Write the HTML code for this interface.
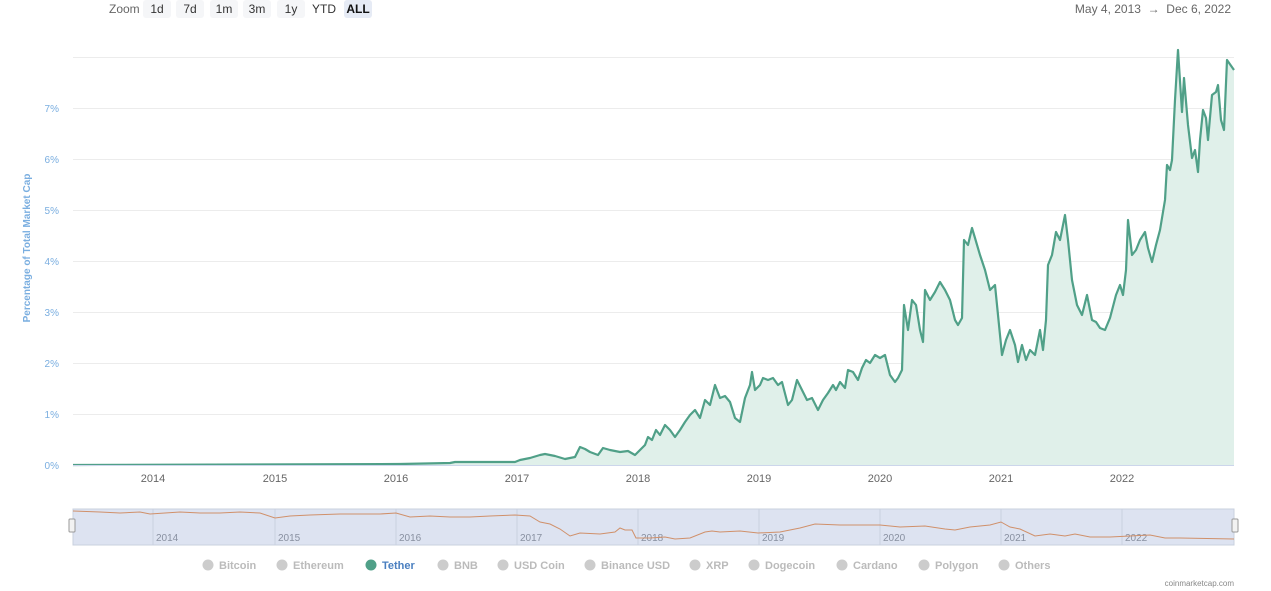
<!DOCTYPE html>
<html><head><style>
body{margin:0;width:1271px;height:591px;background:#fff;font-family:"Liberation Sans",sans-serif;overflow:hidden;position:relative}
.btn{position:absolute;top:0;height:18px;line-height:18px;font-size:12px;color:#333;background:#f5f6f8;border-radius:3px;text-align:center}
</style></head><body>
<div style="position:absolute;left:109px;top:2px;font-size:12px;color:#666">Zoom</div>
<div class="btn" style="left:143px;width:28px">1d</div>
<div class="btn" style="left:176px;width:28px">7d</div>
<div class="btn" style="left:210px;width:28px">1m</div>
<div class="btn" style="left:243px;width:28px">3m</div>
<div class="btn" style="left:277px;width:28px">1y</div>
<div class="btn" style="left:310px;width:28px;background:#fff">YTD</div>
<div class="btn" style="left:344px;width:28px;background:#e6ebf5;font-weight:bold;color:#111">ALL</div>
<div style="position:absolute;right:40px;top:2px;font-size:12px;color:#666">May 4, 2013 &nbsp;→&nbsp; Dec 6, 2022</div>
<svg width="1271" height="591" style="position:absolute;left:0;top:0">
<g stroke="#ececec" stroke-width="1">
<line x1="73" x2="1234" y1="57.5" y2="57.5"/><line x1="73" x2="1234" y1="108.5" y2="108.5"/><line x1="73" x2="1234" y1="159.5" y2="159.5"/><line x1="73" x2="1234" y1="210.5" y2="210.5"/><line x1="73" x2="1234" y1="261.5" y2="261.5"/><line x1="73" x2="1234" y1="312.5" y2="312.5"/><line x1="73" x2="1234" y1="363.5" y2="363.5"/><line x1="73" x2="1234" y1="414.5" y2="414.5"/>
</g>
<g fill="#7aaee0" font-size="10" text-anchor="end">
<text x="59" y="112">7%</text><text x="59" y="163">6%</text><text x="59" y="214">5%</text><text x="59" y="265">4%</text><text x="59" y="316">3%</text><text x="59" y="367">2%</text><text x="59" y="418">1%</text><text x="59" y="469">0%</text>
</g>
<text transform="translate(30,248) rotate(-90)" fill="#7aaee0" font-size="10" font-weight="bold" text-anchor="middle">Percentage of Total Market Cap</text>
<polygon id="area" fill="#e0f0ea"/>
<polyline id="line" fill="none" stroke="#50a088" stroke-width="2.2" stroke-linejoin="round"/>
<line x1="73" x2="1234" y1="465.5" y2="465.5" stroke="#ccd6eb"/>
<g fill="#666" font-size="11" text-anchor="middle">
<text x="153" y="482">2014</text><text x="275" y="482">2015</text><text x="396" y="482">2016</text><text x="517" y="482">2017</text><text x="638" y="482">2018</text><text x="759" y="482">2019</text><text x="880" y="482">2020</text><text x="1001" y="482">2021</text><text x="1122" y="482">2022</text>
</g>
<rect x="73" y="509" width="1161" height="36" fill="#dde3f1" stroke="#c9d0de"/>
<g stroke="#c9d0e0"><line x1="153" x2="153" y1="509" y2="545"/><line x1="275" x2="275" y1="509" y2="545"/><line x1="396" x2="396" y1="509" y2="545"/><line x1="517" x2="517" y1="509" y2="545"/><line x1="638" x2="638" y1="509" y2="545"/><line x1="759" x2="759" y1="509" y2="545"/><line x1="880" x2="880" y1="509" y2="545"/><line x1="1001" x2="1001" y1="509" y2="545"/><line x1="1122" x2="1122" y1="509" y2="545"/></g>
<g fill="#8890a0" font-size="10"><text x="156" y="541">2014</text><text x="278" y="541">2015</text><text x="399" y="541">2016</text><text x="520" y="541">2017</text><text x="641" y="541">2018</text><text x="762" y="541">2019</text><text x="883" y="541">2020</text><text x="1004" y="541">2021</text><text x="1125" y="541">2022</text></g>
<polyline fill="none" stroke="#d0906a" stroke-width="1" points="73,511 100,512 120,513 140,512 150,514 165,513 180,512 200,513 220,513 240,512 260,513 275,518 290,516 310,515 340,514 360,514 380,514 396,513 410,517 430,516 450,517 470,517 490,516 515,515 530,516 540,522 550,524 560,529 570,536 580,533 600,534 615,532 620,528 625,530 632,530 636,538 650,538 665,537 675,539 690,538 705,532 712,531 720,532 740,531 758,533 780,532 800,528 815,524 840,525 860,525 880,525 900,527 925,526 945,529 955,530 970,527 990,525 1001,522 1010,527 1020,529 1035,536 1050,534 1065,536 1075,534 1090,537 1110,537 1130,536 1150,535 1165,538 1180,538 1234,539"/>
<rect x="69" y="519" width="6" height="13" fill="#f2f2f2" stroke="#999" rx="1"/>
<rect x="1232" y="519" width="6" height="13" fill="#f2f2f2" stroke="#999" rx="1"/>
<g font-size="11" font-weight="bold" fill="#bbb">
<circle cx="208" cy="565" r="5.5" fill="#ccc"/><text x="219" y="569">Bitcoin</text>
<circle cx="282" cy="565" r="5.5" fill="#ccc"/><text x="293" y="569">Ethereum</text>
<circle cx="371" cy="565" r="5.5" fill="#50a088"/><text x="382" y="569" fill="#4a7fc0">Tether</text>
<circle cx="443" cy="565" r="5.5" fill="#ccc"/><text x="454" y="569">BNB</text>
<circle cx="503" cy="565" r="5.5" fill="#ccc"/><text x="514" y="569">USD Coin</text>
<circle cx="590" cy="565" r="5.5" fill="#ccc"/><text x="601" y="569">Binance USD</text>
<circle cx="695" cy="565" r="5.5" fill="#ccc"/><text x="706" y="569">XRP</text>
<circle cx="754" cy="565" r="5.5" fill="#ccc"/><text x="765" y="569">Dogecoin</text>
<circle cx="842" cy="565" r="5.5" fill="#ccc"/><text x="853" y="569">Cardano</text>
<circle cx="924" cy="565" r="5.5" fill="#ccc"/><text x="935" y="569">Polygon</text>
<circle cx="1004" cy="565" r="5.5" fill="#ccc"/><text x="1015" y="569">Others</text>
</g>
<text x="1234" y="586" font-size="8" fill="#888" text-anchor="end">coinmarketcap.com</text>
</svg>
<script>
var p="73,465 400,464 450,463 455,462 515,462 520,460 530,458 540,455 545,454 555,456 565,459 575,457 580,447 585,449 590,452 598,455 603,448 610,450 620,452 628,451 635,455 640,450 645,445 648,437 652,440 656,430 660,435 665,425 670,430 675,437 680,430 685,422 690,415 695,410 700,418 705,400 710,405 715,385 720,398 725,396 730,402 735,418 740,422 745,398 750,385 752,372 755,390 760,385 763,378 768,380 773,378 778,385 782,382 788,405 792,400 797,380 802,390 807,400 812,398 818,410 823,400 828,393 833,385 836,390 840,382 845,388 848,370 853,372 858,380 862,368 866,360 870,363 875,355 880,358 885,355 890,375 895,382 898,378 902,370 904,305 908,330 912,300 916,305 920,330 923,342 925,290 930,300 935,292 940,282 945,290 950,300 955,320 958,325 962,318 964,240 968,245 972,228 975,238 980,255 985,270 990,290 995,285 998,315 1002,355 1006,340 1010,330 1015,345 1018,362 1022,345 1026,360 1030,350 1035,355 1040,330 1043,350 1046,320 1048,265 1052,255 1056,232 1060,240 1065,215 1068,240 1072,280 1077,305 1082,315 1087,295 1092,320 1096,322 1100,328 1105,330 1110,318 1116,295 1120,285 1123,295 1126,270 1128,220 1132,255 1136,250 1140,240 1145,232 1148,248 1152,262 1156,245 1160,230 1165,200 1167,165 1170,170 1172,160 1175,100 1178,50 1182,112 1184,78 1188,125 1192,158 1195,150 1198,172 1200,140 1203,110 1206,118 1208,140 1212,95 1216,92 1218,85 1221,120 1224,130 1227,60 1234,70";
document.getElementById('line').setAttribute('points',p);
document.getElementById('area').setAttribute('points',p+" 1234,465 73,465");
</script>
</body></html>
